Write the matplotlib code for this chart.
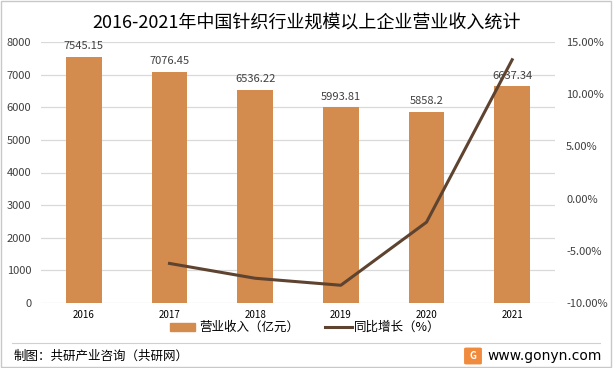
import numpy as np
import matplotlib
matplotlib.use("Agg")
import matplotlib.pyplot as plt
from matplotlib.patches import Rectangle, FancyBboxPatch

plt.rcParams['font.family'] = ['Noto Sans CJK SC', 'DejaVu Sans']

# data
years = ['2016', '2017', '2018', '2019', '2020', '2021']
revenue = [7545.15, 7076.45, 6536.22, 5993.81, 5858.2, 6637.34]
growth_years = ['2017', '2018', '2019', '2020', '2021']
growth = [-6.21, -7.63, -8.30, -2.26, 13.30]

bar_color = '#D38B4E'
line_color = '#5E4330'
grid_color = '#D9D9D9'
text_color = '#404040'

fig = plt.figure(figsize=(6.13, 3.68), dpi=100)
ax = fig.add_axes([41/613, 65/368, 514/613, 261/368])

x = np.arange(len(years))
ax.bar(x, revenue, width=0.42, color=bar_color, zorder=2)
for xi, v in zip(x, revenue):
    ax.text(xi, v + 180, f'{v:g}', ha='center', va='bottom', fontsize=8, color=text_color, zorder=3)

ax.set_xlim(-0.5, len(years) - 0.5)
ax.set_ylim(0, 8000)
ax.set_yticks(np.arange(0, 8001, 1000))
ax.set_xticks(x)
ax.set_xticklabels(years, fontsize=7, color='black')
ax.tick_params(axis='y', labelsize=8, labelcolor=text_color, length=0, pad=7)
ax.tick_params(axis='x', length=0, pad=5)
ax.grid(axis='y', color=grid_color, linewidth=0.9, zorder=0)
for s in ax.spines.values():
    s.set_visible(False)

ax2 = ax.twinx()
gx = [years.index(y) for y in growth_years]
ax2.plot(gx, growth, color=line_color, linewidth=2.2, zorder=4)
ax2.set_ylim(-10, 15)
ax2.set_yticks(np.arange(-10, 15.1, 5))
ax2.set_yticklabels([f'{t:.2f}%' for t in np.arange(-10, 15.1, 5)])
ax2.tick_params(axis='y', labelsize=8, labelcolor=text_color, length=0, pad=8)
for s in ax2.spines.values():
    s.set_visible(False)

# title
fig.text(0.5, 0.935, '2016-2021年中国针织行业规模以上企业营业收入统计', ha='center', va='center',
         fontsize=13, color='black')

# legend
fig.patches.append(Rectangle((170/613, 1 - 331/368), 25/613, 8/368, transform=fig.transFigure,
                             color=bar_color))
fig.text(199/613, 1 - 327/368, '营业收入（亿元）', ha='left', va='center', fontsize=9, color='black')
fig.lines.append(plt.Line2D([325/613, 352/613], [1 - 327/368] * 2, transform=fig.transFigure,
                            color=line_color, linewidth=2.2))
fig.text(354/613, 1 - 327/368, '同比增长（%）', ha='left', va='center', fontsize=9, color='black')

# footer
sep = plt.Line2D([12/613, 600/613], [1 - 343/368] * 2, transform=fig.transFigure,
                 color='#D0D0D0', linewidth=0.8)
fig.lines.append(sep)
fig.text(14/613, 1 - 356/368, '制图：共研产业咨询（共研网）', ha='left', va='center', fontsize=9, color='black')
fig.patches.append(FancyBboxPatch((466/613, 1 - 363/368), 14/613, 14/368, boxstyle='round,pad=0.002',
                                  transform=fig.transFigure, color='#F08A3C'))
fig.text(473/613, 1 - 356/368, 'G', ha='center', va='center', fontsize=7, color='white', fontweight='bold')
fig.text(487/613, 1 - 356/368, 'www.gonyn.com', ha='left', va='center', fontsize=10, color='black',
         family='DejaVu Sans')

# outer border
fig.patches.append(Rectangle((0.002, 0.003), 0.995, 0.994, transform=fig.transFigure,
                             fill=False, edgecolor='#C8C8C8', linewidth=1))

fig.savefig('out.png', dpi=100)
